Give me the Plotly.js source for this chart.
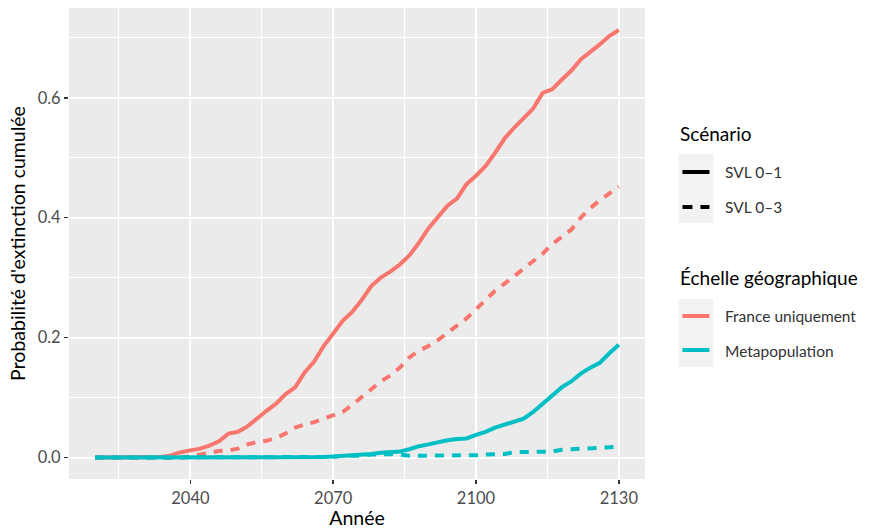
<!DOCTYPE html>
<html>
<head>
<meta charset="utf-8">
<script src="https://cdn.plot.ly/plotly-3.0.1.min.js"></script>
<style>html,body{margin:0;padding:0;background:#fff;}#chart{width:884px;height:529px;}</style>
</head>
<body>
<div id="chart"></div>
<script>
// ---- data ----
const years = [2020,2022,2024,2026,2028,2030,2032,2034,2036,2038,2040,2042,2044,2046,2048,2050,2052,2054,2056,2058,2060,2062,2064,2066,2068,2070,2072,2074,2076,2078,2080,2082,2084,2086,2088,2090,2092,2094,2096,2098,2100,2102,2104,2106,2108,2110,2112,2114,2116,2118,2120,2122,2124,2126,2128,2130];

const franceSVL01 = [0,0,0,0,0,0,0,0.001,0.004,0.009,0.012,0.015,0.020,0.027,0.040,0.043,0.052,0.066,0.078,0.090,0.106,0.117,0.142,0.160,0.186,0.207,0.228,0.243,0.263,0.286,0.300,0.310,0.322,0.337,0.358,0.382,0.402,0.420,0.432,0.456,0.470,0.486,0.508,0.532,0.550,0.567,0.582,0.608,0.614,0.630,0.645,0.664,0.676,0.689,0.703,0.713];

const franceSVL03 = [0,0,0,0,0,0,0,0,0,0,0.002,0.005,0.009,0.011,0.012,0.015,0.022,0.026,0.028,0.033,0.040,0.050,0.055,0.059,0.065,0.071,0.076,0.088,0.100,0.114,0.127,0.137,0.150,0.167,0.178,0.186,0.196,0.207,0.220,0.232,0.248,0.264,0.278,0.290,0.302,0.315,0.326,0.340,0.356,0.368,0.380,0.400,0.416,0.429,0.441,0.452];

const metaSVL01 = [0,0,0,0,0,0,0,0,0,0,0,0,0,0,0,0,0,0,0,0,0.001,0.001,0.001,0.001,0.001,0.002,0.003,0.003,0.004,0.006,0.008,0.009,0.010,0.014,0.019,0.022,0.026,0.029,0.031,0.032,0.038,0.043,0.050,0.055,0.060,0.065,0.076,0.089,0.103,0.117,0.127,0.140,0.150,0.158,0.174,0.188];

const metaSVL03 = [0,0,0,0,0,0,0,0,0,0,0,0,0,0,0,0,0,0,0,0,0,0,0,0,0,0.001,0.003,0.003,0.003,0.005,0.006,0.006,0.005,0.003,0.003,0.003,0.003,0.003,0.003,0.004,0.004,0.005,0.005,0.006,0.009,0.009,0.010,0.010,0.010,0.013,0.014,0.015,0.015,0.016,0.017,0.018];

const xTicks = [2040, 2070, 2100, 2130];
const xMinor = [2025, 2055, 2085, 2115];
const yTicks = [0, 0.2, 0.4, 0.6];
const yTickText = ["0.0", "0.2", "0.4", "0.6"];
const yMinor = [0.1, 0.3, 0.5, 0.7];

const xTitle = "Année";
const yTitle = "Probabilité d'extinction cumulée";
const legend1Title = "Scénario";
const scenarioLabels = ["SVL 0–1", "SVL 0–3"];
const legend2Title = "Échelle géographique";
const scaleLabels = ["France uniquement", "Metapopulation"];

// ---- styles ----
const RED = "#F8766D", TEAL = "#00BFC4";
const LW = 4;
const DASH = "9px,8px";
const FONT = "Lato, 'DejaVu Sans', sans-serif";

const traces = [
  {x: years, y: franceSVL01, mode: "lines", line: {color: RED, width: LW}, showlegend: false, hoverinfo: "skip"},
  {x: years, y: franceSVL03, mode: "lines", line: {color: RED, width: LW, dash: DASH}, showlegend: false, hoverinfo: "skip"},
  {x: years, y: metaSVL01, mode: "lines", line: {color: TEAL, width: LW}, showlegend: false, hoverinfo: "skip"},
  {x: years, y: metaSVL03, mode: "lines", line: {color: TEAL, width: LW, dash: DASH}, showlegend: false, hoverinfo: "skip"}
];

// ---- layout geometry ----
const W = 884, H = 529;
const M = {l: 69, r: 238.5, t: 8, b: 50};
const pw = W - M.l - M.r, ph = H - M.t - M.b;
const px = x => (x - M.l) / pw;
const py = y => (H - M.b - y) / ph;

const shapes = [];
const annotations = [];

// legend key backgrounds
shapes.push({type: "rect", xref: "paper", yref: "paper", x0: px(679), x1: px(714), y0: py(223), y1: py(154), fillcolor: "#F2F2F2", line: {width: 0}, layer: "below"});
shapes.push({type: "rect", xref: "paper", yref: "paper", x0: px(679), x1: px(714), y0: py(367), y1: py(299), fillcolor: "#F2F2F2", line: {width: 0}, layer: "below"});
// legend keys
shapes.push({type: "line", xref: "paper", yref: "paper", x0: px(683), x1: px(710), y0: py(172), y1: py(172), line: {color: "#000", width: LW}});
shapes.push({type: "line", xref: "paper", yref: "paper", x0: px(683), x1: px(693), y0: py(207), y1: py(207), line: {color: "#000", width: LW}});
shapes.push({type: "line", xref: "paper", yref: "paper", x0: px(701), x1: px(710), y0: py(207), y1: py(207), line: {color: "#000", width: LW}});
shapes.push({type: "line", xref: "paper", yref: "paper", x0: px(683), x1: px(710), y0: py(316), y1: py(316), line: {color: RED, width: LW}});
shapes.push({type: "line", xref: "paper", yref: "paper", x0: px(683), x1: px(710), y0: py(350), y1: py(350), line: {color: TEAL, width: LW}});

function txt(text, x, y, size, color) {
  annotations.push({text: text, xref: "paper", yref: "paper", x: px(x), y: py(y), xanchor: "left", yanchor: "middle", showarrow: false, font: {family: FONT, size: size, color: color}});
}
txt(legend1Title, 679, 133, 19, "#000");
txt(scenarioLabels[0], 724, 172, 15.5, "#333");
txt(scenarioLabels[1], 724, 207, 15.5, "#333");
txt(legend2Title, 679, 277, 19, "#000");
txt(scaleLabels[0], 724, 316, 15.5, "#333");
txt(scaleLabels[1], 724, 351, 15.5, "#333");

const layout = {
  width: W, height: H,
  margin: M,
  paper_bgcolor: "#FFFFFF",
  plot_bgcolor: "#EBEBEB",
  font: {family: FONT, color: "#4D4D4D"},
  showlegend: false,
  xaxis: {
    range: [2014.5, 2135.5],
    tickvals: xTicks,
    ticks: "outside", ticklen: 4, tickwidth: 1.5, tickcolor: "#333333",
    tickfont: {size: 16.5, color: "#4D4D4D", family: FONT},
    showgrid: true, gridcolor: "#FFFFFF", gridwidth: 2,
    minor: {tickvals: xMinor, showgrid: true, gridcolor: "#FFFFFF", gridwidth: 1, ticks: ""},
    zeroline: false, showline: false,
    title: {text: xTitle, font: {size: 19.5, color: "#000", family: FONT}, standoff: 4}
  },
  yaxis: {
    range: [-0.0357, 0.7497],
    tickvals: yTicks, ticktext: yTickText,
    ticks: "outside", ticklen: 4, tickwidth: 1.5, tickcolor: "#333333",
    tickfont: {size: 16.5, color: "#4D4D4D", family: FONT},
    showgrid: true, gridcolor: "#FFFFFF", gridwidth: 2,
    minor: {tickvals: yMinor, showgrid: true, gridcolor: "#FFFFFF", gridwidth: 1, ticks: ""},
    zeroline: false, showline: false,
    title: {text: yTitle, font: {size: 19.5, color: "#000", family: FONT}, standoff: 6}
  },
  shapes: shapes,
  annotations: annotations
};

Plotly.newPlot("chart", traces, layout, {staticPlot: true, displayModeBar: false});
</script>
</body>
</html>
